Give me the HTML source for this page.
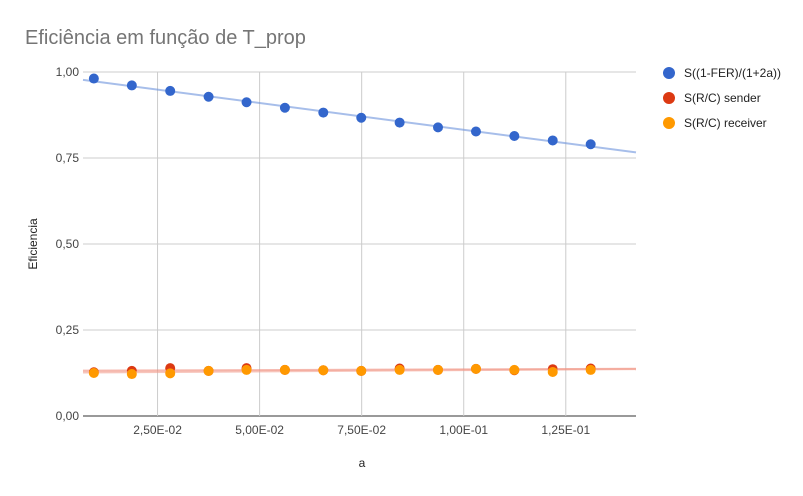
<!DOCTYPE html>
<html><head><meta charset="utf-8"><style>
body{margin:0;background:#fff;}
svg{display:block;font-family:"Liberation Sans",Arial,sans-serif;}
</style></head><body>
<svg id="c" width="803" height="496">
<rect width="803" height="496" fill="#fff"/>
<text x="25" y="44" font-size="20" fill="#757575">Eficiência em função de T_prop</text>
<g id="grid"></g><g id="ticks"></g><g id="marks"></g>
<text transform="translate(37,244) rotate(-90)" text-anchor="middle" font-size="12" fill="#222">Eficiencia</text>
<text x="362" y="467" text-anchor="middle" font-size="12" fill="#222">a</text>
<g>
<g><circle cx="669" cy="73" r="6" fill="#3366cc"/><text x="684" y="77" font-size="12" fill="#222">S((1-FER)/(1+2a))</text></g>
<g><circle cx="669" cy="98" r="6" fill="#dc3912"/><text x="684" y="102" font-size="12" fill="#222">S(R/C) sender</text></g>
<g><circle cx="669" cy="123" r="6" fill="#ff9900"/><text x="684" y="127" font-size="12" fill="#222">S(R/C) receiver</text></g>
</g>
</svg>
<script>
const aVals=[0.0094,0.0187,0.0281,0.0375,0.0468,0.0562,0.0656,0.0749,0.0843,0.0937,0.1030,0.1124,0.1218,0.1311];
const sFer=[0.981,0.961,0.945,0.928,0.912,0.896,0.882,0.867,0.853,0.839,0.827,0.814,0.801,0.790];
const sSender=[0.127,0.131,0.139,0.131,0.139,0.134,0.133,0.131,0.138,0.134,0.137,0.133,0.136,0.138];
const sReceiver=[0.125,0.122,0.124,0.131,0.134,0.134,0.133,0.131,0.134,0.134,0.137,0.134,0.128,0.134];
const yTicks=[0,0.25,0.5,0.75,1.0];
const yTickLabels=["0,00","0,25","0,50","0,75","1,00"];
const xTicks=[0.025,0.05,0.075,0.1,0.125];
const xTickLabels=["2,50E-02","5,00E-02","7,50E-02","1,00E-01","1,25E-01"];
const X0=83,X1=636,XMIN=0.00674,XMAX=0.1422,Y0=416,Y1=72;
const sx=v=>X0+(v-XMIN)/(XMAX-XMIN)*(X1-X0);
const sy=v=>Y0-v*(Y0-Y1);
const NS="http://www.w3.org/2000/svg";
function mk(t,a,p){const e=document.createElementNS(NS,t);for(const k in a)e.setAttribute(k,a[k]);p.appendChild(e);return e;}
const grid=document.getElementById('grid'),ticks=document.getElementById('ticks'),marks=document.getElementById('marks');
yTicks.forEach((v,i)=>{
 const l=mk('line',{x1:X0,x2:X1,y1:sy(v),y2:sy(v),stroke:i==0?'#333':'#ccc','stroke-width':1},grid);
 
 
 const t=mk('text',{x:X0-4,y:sy(v)+4,'text-anchor':'end','font-size':12,fill:'#444'},ticks);t.textContent=yTickLabels[i];
 
 
});
xTicks.forEach((v,i)=>{
 const l=mk('line',{x1:sx(v),x2:sx(v),y1:Y1,y2:Y0,stroke:'#ccc','stroke-width':1},grid);
 
 
 const t=mk('text',{x:sx(v),y:Y0+18,'text-anchor':'middle','font-size':12,fill:'#444'},ticks);t.textContent=xTickLabels[i];
 
 
});
function fit(ys){const n=aVals.length;let mx=0,my=0;aVals.forEach((x,i)=>{mx+=x;my+=ys[i];});mx/=n;my/=n;let sxy=0,sxx=0;aVals.forEach((x,i)=>{sxy+=(x-mx)*(ys[i]-my);sxx+=(x-mx)*(x-mx);});const b=sxy/sxx;return x=>my+b*(x-mx);}
function series(ys,col,tcol,name){
 const f=fit(ys);
 const tl=mk('line',{x1:X0,y1:sy(f(XMIN)),x2:X1,y2:sy(f(XMAX)),stroke:tcol,'stroke-width':2,opacity:0.6},marks);
 
 
 ys.forEach((v,i)=>{const c=mk('circle',{cx:sx(aVals[i]),cy:sy(v),r:5,fill:col},marks);
  
  });
}
series(sFer,'#3366cc','#6d94dd','s-fer');
series(sSender,'#dc3912','#f08a7a','sender');
series(sReceiver,'#ff9900','#f3a090','receiver');
</script>
</body></html>
